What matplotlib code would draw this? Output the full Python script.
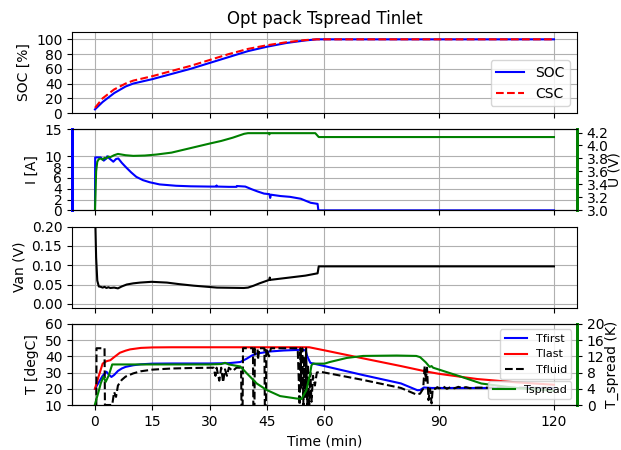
import numpy as np
import matplotlib
matplotlib.use("Agg")
import matplotlib.pyplot as plt

# state of charge / charge state counter
t_soc = [0, 2, 5, 8, 10, 15, 20, 25, 30, 35, 40, 45, 50, 55, 58, 60, 120]
soc = [5, 15, 27, 36, 40, 46, 53, 60, 68, 76, 84, 90, 95, 98.5, 100, 100, 100]
csc = [7, 20, 32, 40, 44, 50, 57, 64, 72, 80, 87, 92, 96, 99, 100, 100, 100]

# cell current
t_cur = [0, 0.05, 1.5, 2.3, 2.8, 3.2, 3.6, 4.8, 5.5, 6.1, 7, 8.2, 9.5, 10.8, 12.5,
         14.3, 16.9, 21.2, 25, 29.9, 31.7, 31.8, 32, 35, 37, 37.1, 39.3, 41, 42.5,
         44.2, 45.6, 45.8, 46, 48.5, 51, 53.8, 55, 56.4, 58.2, 58.4, 120]
cur = [0, 9.8, 9.8, 9.2, 9.5, 10.0, 9.7, 9.0, 9.5, 9.6, 8.8, 7.9, 7.0, 6.2, 5.6,
       5.2, 4.8, 4.55, 4.45, 4.4, 4.4, 4.6, 4.4, 4.35, 4.35, 4.5, 4.4, 3.9, 3.5,
       3.1, 3.0, 2.3, 2.9, 2.65, 2.5, 2.15, 1.8, 1.4, 1.2, 0, 0]

# cell voltage
t_volt = [0, 0.3, 0.6, 1, 1.5, 2, 2.5, 3, 3.5, 4, 5, 6, 7, 8, 10, 13, 16, 20, 25,
          30, 33, 36, 39, 40, 44, 45.5, 45.6, 45.7, 57.6, 58.5, 120]
volt = [3.0, 3.6, 3.75, 3.79, 3.8, 3.78, 3.81, 3.8, 3.83, 3.82, 3.85, 3.87, 3.86,
        3.85, 3.84, 3.845, 3.86, 3.89, 3.96, 4.03, 4.07, 4.12, 4.18, 4.19, 4.19,
        4.19, 4.17, 4.19, 4.19, 4.13, 4.13]

# anode potential
t_van = [0, 0.3, 0.6, 1, 1.5, 2, 2.5, 3, 3.5, 4, 5, 6, 7, 8.3, 10, 11.8, 14.8,
         18.8, 22, 25.8, 31.9, 38.9, 40, 41.5, 43, 45, 45.6, 45.7, 45.8, 50, 55,
         58.2, 58.5, 120]
van = [0.25, 0.12, 0.06, 0.045, 0.044, 0.042, 0.044, 0.041, 0.043, 0.041, 0.042,
       0.04, 0.045, 0.05, 0.053, 0.055, 0.057, 0.055, 0.051, 0.047, 0.042, 0.041,
       0.042, 0.047, 0.053, 0.06, 0.062, 0.068, 0.062, 0.067, 0.073, 0.079, 0.097,
       0.097]

# temperatures
t_first = [0, 1, 2, 3, 3.5, 4.3, 5, 6, 7, 8, 10, 12, 15, 20, 30, 35, 38, 39.7, 41,
           42.3, 45.8, 49.3, 53.6, 55, 55.5, 56.3, 57.2, 60, 70, 80, 84.3, 85, 86,
           88, 120]
T_first = [20, 24, 28, 30.5, 29, 27.3, 28.5, 31, 32.5, 33.5, 34.5, 35.1, 35.5,
           35.6, 35.6, 35.8, 36.5, 38.6, 40.5, 41.7, 43, 43.6, 44, 43.8, 40, 36,
           35.5, 34, 28.5, 23.3, 19.1, 19.2, 20.8, 20.5, 20.5]

t_last = [0, 1, 2, 3, 4, 5, 6.5, 8, 9.2, 12, 15, 20, 56, 60, 70, 80, 86.5, 90,
          100, 110, 120]
T_last = [20, 28, 35.5, 37, 37.6, 39.5, 42.2, 43.5, 44.3, 45.2, 45.5, 45.6, 45.6,
          43.7, 38.8, 34, 30.7, 29.2, 26, 24, 22.5]

t_fluid = [0, 0.35, 0.4, 2.5, 2.6, 4.5, 5.0, 5.5, 6, 7, 8, 10, 12, 15, 20, 25, 31,
           31.5, 31.8, 32.5, 33, 33.5, 34, 34.5, 35, 36, 37, 38.2, 38.3, 38.6,
           38.7, 41.3, 41.4, 41.7, 41.8, 42.5, 42.6, 43, 44.3, 44.4, 44.7, 44.8,
           45.5, 46, 53, 53.5, 53.7, 54, 54.2, 54.5, 54.7, 55, 55.2, 55.5, 55.7,
           56, 56.3, 56.6, 57, 57.5, 58, 59, 60, 70, 80, 84, 85, 85.8, 86.2, 86.5,
           86.8, 87.2, 87.6, 88, 88.3, 89, 89.5, 90, 91, 92, 93, 94, 95, 96, 97,
           98, 100, 120]
T_fluid = [10, 10, 45, 45, 10, 10, 18, 15, 22, 25.5, 27.5, 29.5, 30.8, 31.8, 32.5,
           32.8, 33, 28, 33, 25, 33, 24, 32, 28, 33, 31, 33, 33, 10, 10,
           45, 45, 10, 10, 45, 45, 38, 45, 45, 10, 10, 45,
           40, 45, 45, 10, 45, 20, 45, 10, 40, 15, 45, 10, 35,
           10, 30, 12, 28, 22, 30, 30.5, 30, 25.5, 20.5, 16.5, 17, 20, 34, 25,
           33, 13, 20, 11, 20, 20, 21, 20.2, 21.5, 20, 21, 20.3, 21.2, 20.5, 21,
           20.4, 20.7, 20.5]

t_spread = [0, 1, 1.5, 2.2, 2.8, 3.6, 4.5, 10, 20, 30, 33, 34, 35, 38, 39.7, 42.3,
            44.9, 48.4, 52.7, 54, 55.3, 56.3, 56.6, 57, 60, 61.4, 65.8, 70.1, 78.9,
            84, 85, 86.5, 87.5, 88, 88.4, 95, 101, 110, 120]
T_spread = [0.2, 3.5, 5.3, 7, 5.7, 7.3, 10, 10, 10, 10, 10.1, 10.4, 10, 9.5, 7.8,
            5.3, 3.7, 2.2, 1.6, 1.5, 3.7, 8, 9.8, 10.2, 10.2, 10.6, 11.6, 12.1,
            12.2, 12.1, 11.8, 10.5, 9.4, 9.6, 9.2, 7.2, 5.3, 4.2, 3.5]

xticks = [0, 15, 30, 45, 60, 90, 120]

fig, (ax1, ax2, ax3, ax4) = plt.subplots(4, 1, sharex=True, figsize=(6.21, 4.5), dpi=100)
fig.subplots_adjust(left=0.116, right=0.929, top=0.929, bottom=0.1, hspace=0.2)

ax1.plot(t_soc, soc, 'b-', label='SOC')
ax1.plot(t_soc, csc, 'r--', label='CSC')
ax1.set_ylabel('SOC [%]')
ax1.set_ylim(0, 110)
ax1.set_yticks([0, 20, 40, 60, 80, 100])
ax1.legend(loc='lower right')
ax1.grid(True)
ax1.set_title('Opt pack Tspread Tinlet')

ax2.plot(t_cur, cur, 'b-')
ax2.set_ylabel('I [A]')
ax2.set_ylim(0, 15)
ax2.set_yticks([0, 2, 4, 6, 8, 10, 15])
ax2.grid(True)
ax2b = ax2.twinx()
ax2b.plot(t_volt, volt, 'g-')
ax2b.set_ylabel('U (V)', labelpad=-1)
ax2b.set_ylim(3.0, 4.25)
ax2b.set_yticks(np.arange(3.0, 4.21, 0.2))
for a in (ax2, ax2b):
    a.spines['left'].set_color('b')
    a.spines['left'].set_linewidth(2)
    a.spines['right'].set_color('g')
    a.spines['right'].set_linewidth(2)

ax3.plot(t_van, van, 'k-')
ax3.set_ylabel('Van (V)')
ax3.set_ylim(-0.01, 0.2)
ax3.set_yticks([0, 0.05, 0.1, 0.15, 0.2])
ax3.grid(True)

ax4.plot(t_first, T_first, 'b-', label='Tfirst')
ax4.plot(t_last, T_last, 'r-', label='Tlast')
ax4.plot(t_fluid, T_fluid, 'k--', label='Tfluid')
ax4.set_ylabel('T [degC]')
ax4.set_ylim(10, 60)
ax4.set_yticks([10, 20, 30, 40, 50, 60])
ax4.grid(True)
ax4.legend(loc='upper right', fontsize=8)
ax4b = ax4.twinx()
ax4b.plot(t_spread, T_spread, 'g-', label='Tspread')
ax4b.set_ylabel('T_spread (K)', labelpad=0)
ax4b.set_ylim(0, 20)
ax4b.set_yticks([0, 4, 8, 12, 16, 20])
ax4b.legend(loc='lower right', fontsize=8)
for a in (ax4, ax4b):
    a.spines['right'].set_color('g')
    a.spines['right'].set_linewidth(2)

ax4.set_xticks(xticks)
ax4.set_xlim(-6, 126)
ax4.set_xlabel('Time (min)')

fig.savefig('out.png', dpi=100)
